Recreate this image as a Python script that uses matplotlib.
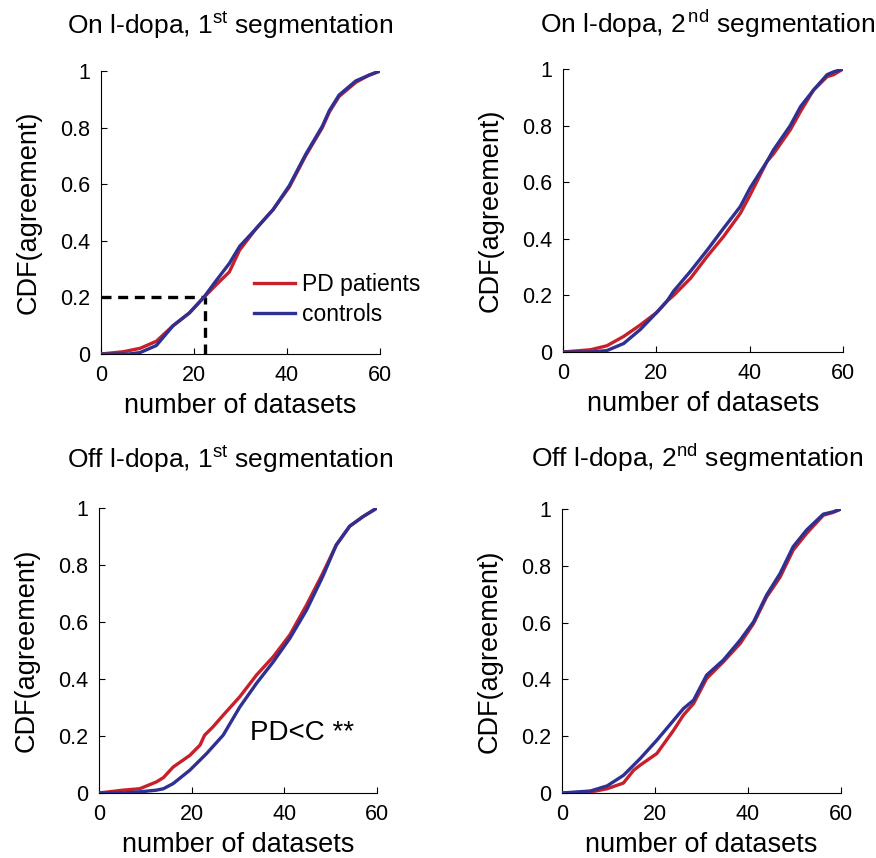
import matplotlib

matplotlib.use("Agg")
import matplotlib.pyplot as plt

plt.rcParams["font.family"] = ["Liberation Sans", "DejaVu Sans"]
plt.rcParams["mathtext.fontset"] = "custom"
plt.rcParams["mathtext.rm"] = "Liberation Sans"
plt.rcParams["mathtext.it"] = "Liberation Sans"

RED = "#c8202a"
BLUE = "#2e3192"

titles = [
    r"On l-dopa, 1$^{\mathrm{st}}$ segmentation",
    r"On l-dopa, 2$^{\,\mathrm{nd}}$ segmentation",
    r"Off l-dopa, 1$^{\mathrm{st}}$ segmentation",
    r"Off l-dopa, 2$^{\mathrm{nd}}$ segmentation",
]

# on l-dopa, 1st segmentation
on1_pd_x = [0, 4.8, 8.4, 11.9, 15.5, 19, 22.1, 24.8, 27.6, 29.8, 33.4, 37, 40.5, 44, 47.6, 49.1, 51.2, 54.8, 57.6, 60]
on1_pd_y = [0, 0.008, 0.02, 0.045, 0.1, 0.145, 0.2, 0.245, 0.29, 0.367, 0.444, 0.51, 0.59, 0.70, 0.80, 0.855, 0.91, 0.96, 0.985, 1.0]
on1_c_x = [0, 6, 8.4, 11.9, 15.5, 19, 22.1, 24.8, 27.6, 29.8, 33.4, 37, 40.5, 44, 47.6, 49.1, 51.2, 54.8, 57.6, 60]
on1_c_y = [0, 0, 0.005, 0.03, 0.1, 0.145, 0.2, 0.26, 0.32, 0.38, 0.444, 0.51, 0.595, 0.705, 0.805, 0.86, 0.915, 0.965, 0.985, 1.0]

# on l-dopa, 2nd segmentation
on2_pd_x = [0, 5.9, 9.4, 13, 16.6, 20.1, 22.3, 23.7, 27.3, 30.9, 34.4, 38, 40.1, 43.7, 45.1, 48.7, 50.9, 53.7, 56.6, 58, 60]
on2_pd_y = [0, 0.008, 0.022, 0.055, 0.096, 0.14, 0.18, 0.20, 0.26, 0.338, 0.408, 0.49, 0.555, 0.673, 0.70, 0.785, 0.85, 0.926, 0.973, 0.98, 1.0]
on2_c_x = [0, 5.9, 9.4, 13, 16.6, 20.1, 22.3, 23.7, 27.3, 30.9, 34.4, 38, 40.1, 43.7, 45.1, 48.7, 50.9, 53.7, 56.6, 58, 60]
on2_c_y = [0, 0, 0.005, 0.03, 0.08, 0.14, 0.18, 0.215, 0.285, 0.36, 0.437, 0.514, 0.58, 0.673, 0.714, 0.80, 0.867, 0.926, 0.98, 0.99, 1.0]

# off l-dopa, 1st segmentation
off1_pd_x = [0, 5.2, 8.8, 12.4, 13.9, 16, 19.6, 21.8, 22.8, 24.6, 26.8, 30.4, 34, 37.6, 41.2, 44.8, 48.3, 51.2, 54.1, 57, 60]
off1_pd_y = [0, 0.01, 0.015, 0.039, 0.054, 0.091, 0.132, 0.168, 0.203, 0.232, 0.273, 0.338, 0.414, 0.478, 0.555, 0.66, 0.771, 0.87, 0.936, 0.97, 1.0]
off1_c_x = [0, 5.2, 8.8, 12.4, 13.9, 16, 19.6, 23.2, 26.8, 30.4, 34, 37.6, 41.2, 44.8, 48.3, 51.2, 54.1, 57, 60]
off1_c_y = [0, 0, 0.004, 0.01, 0.015, 0.033, 0.08, 0.138, 0.203, 0.302, 0.385, 0.46, 0.543, 0.642, 0.76, 0.87, 0.936, 0.97, 1.0]

# off l-dopa, 2nd segmentation
off2_pd_x = [0, 6.1, 9.7, 13.2, 15.4, 16.8, 20.4, 24, 26.1, 28.3, 31.1, 34.7, 38.3, 41.2, 44, 46.9, 49.7, 52.6, 56.2, 58.3, 60]
off2_pd_y = [0, 0.003, 0.015, 0.035, 0.08, 0.098, 0.139, 0.221, 0.274, 0.315, 0.403, 0.462, 0.526, 0.597, 0.69, 0.76, 0.855, 0.914, 0.978, 0.988, 1.0]
off2_c_x = [0, 6.1, 9.7, 13.2, 15.4, 16.8, 20.4, 24, 26.1, 28.3, 31.1, 34.7, 38.3, 41.2, 44, 46.9, 49.7, 52.6, 56.2, 58.3, 60]
off2_c_y = [0, 0.007, 0.025, 0.062, 0.098, 0.121, 0.186, 0.256, 0.297, 0.327, 0.415, 0.468, 0.538, 0.603, 0.697, 0.773, 0.867, 0.926, 0.982, 0.99, 1.0]

panels = [
    (on1_pd_x, on1_pd_y, on1_c_x, on1_c_y),
    (on2_pd_x, on2_pd_y, on2_c_x, on2_c_y),
    (off1_pd_x, off1_pd_y, off1_c_x, off1_c_y),
    (off2_pd_x, off2_pd_y, off2_c_x, off2_c_y),
]

# threshold marked in first panel
thr_x = 22.3
thr_y = 0.2

W, H = 876, 858
rects_px = [
    (101, 71, 380, 354),
    (563, 69, 843, 352),
    (99, 508, 377, 793),
    (562, 509, 841, 793),
]
title_x = [0.462, 0.515, 0.471, 0.484]
title_pad = [27, 26, 29, 30]

fig = plt.figure(figsize=(W / 100, H / 100), dpi=100)
axes = []
for (l, t, r, b) in rects_px:
    ax = fig.add_axes([l / W, (H - b) / H, (r - l) / W, (b - t) / H])
    axes.append(ax)

for i, (ax, (px, py, cx, cy)) in enumerate(zip(axes, panels)):
    ax.plot(px, py, color=RED, lw=2.4, label="PD patients", zorder=3)
    ax.plot(cx, cy, color=BLUE, lw=2.4, label="controls", zorder=3)
    ax.set_xlim(0, 60)
    ax.set_ylim(0, 1)
    ax.set_xticks([0, 20, 40, 60])
    ax.set_yticks([0, 0.2, 0.4, 0.6, 0.8, 1])
    ax.set_yticklabels(["0", "0.2", "0.4", "0.6", "0.8", "1"])
    ax.spines["top"].set_visible(False)
    ax.spines["right"].set_visible(False)
    for s in ("left", "bottom"):
        ax.spines[s].set_linewidth(0.8)
    ax.tick_params(direction="in", length=4, width=0.8, labelsize=15.5, pad=8)
    ax.set_xlabel("number of datasets", fontsize=19.5, labelpad=5)
    ax.set_ylabel("CDF(agreement)", fontsize=19.5, labelpad=13)
    ax.set_title(titles[i], fontsize=19, x=title_x[i], pad=title_pad[i])
    ax.patch.set_visible(False)

ax0 = axes[0]
ax0.plot([0, thr_x], [thr_y, thr_y], color="black", lw=2.4, ls=(0, (3, 2)), zorder=2)
ax0.plot([thr_x, thr_x], [0, thr_y], color="black", lw=2.4, ls=(0, (3, 2)), zorder=2)
ax0.legend(loc="center left", bbox_to_anchor=(0.548, 0.194), frameon=False, fontsize=16.5,
           handlelength=1.8, handletextpad=0.3, labelspacing=0.3, borderpad=0, borderaxespad=0)

axes[2].text(32.6, 0.21, "PD<C **", fontsize=20, va="center", ha="left")

fig.savefig("out.png", dpi=100)
